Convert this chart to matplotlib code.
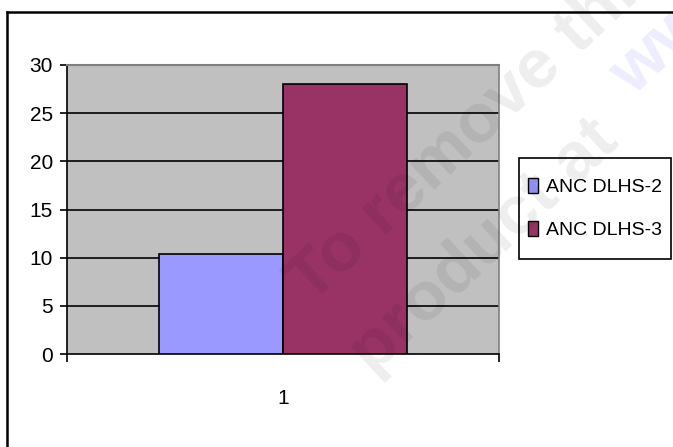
import matplotlib
matplotlib.use("Agg")
import matplotlib.pyplot as plt
from matplotlib.lines import Line2D
from matplotlib.patches import Rectangle
import numpy as np

plt.rcParams.update({"font.family": "Liberation Sans", "font.size": 15})

categories = ["1"]
series = ["ANC DLHS-2", "ANC DLHS-3"]
values = {"ANC DLHS-2": [10.4], "ANC DLHS-3": [28.0]}
colors = {"ANC DLHS-2": "#9999FF", "ANC DLHS-3": "#993366"}
yticks = [0, 5, 10, 15, 20, 25, 30]

W, H = 673, 447
fig = plt.figure(figsize=(W / 100, H / 100), dpi=100)
ax = fig.add_axes([67 / W, 1 - 354 / H, (499 - 67) / W, (354 - 65) / H])
ax.set_facecolor("#C0C0C0")

x = np.arange(len(categories)) + 1
bw = 0.286
for i, s in enumerate(series):
    ax.bar(x + (i - 0.5) * bw, values[s], width=bw, color=colors[s],
           edgecolor="black", linewidth=1.2, label=s, zorder=3)

ax.set_xlim(0.5, len(categories) + 0.5)
ax.set_ylim(0, 30)
ax.set_yticks(yticks)
for yv in yticks[1:-1]:
    ax.axhline(yv, color="black", linewidth=1.2, zorder=1)

ax.spines["top"].set_color("#808080")
ax.spines["right"].set_color("#808080")
ax.spines["top"].set_linewidth(1.5)
ax.spines["right"].set_linewidth(1.2)
ax.spines["left"].set_linewidth(1.2)
ax.spines["bottom"].set_linewidth(1.2)

ax.tick_params(axis="y", direction="out", length=5, width=1.2, pad=5, labelsize=15)
ax.set_xticks(x)
ax.set_xticklabels(categories)
ax.tick_params(axis="x", length=0, pad=25, labelsize=15)
ax.set_xticks(np.arange(len(categories) + 1) + 0.5, minor=True)
ax.tick_params(axis="x", which="minor", direction="out", length=6, width=1.2)

# legend box drawn to the reference size, entries centred in it
lx0, ly0, lx1, ly1 = 519, 158, 671, 259
fig.add_artist(Rectangle((lx0 / W, 1 - ly1 / H), (lx1 - lx0) / W, (ly1 - ly0) / H,
                         transform=fig.transFigure, facecolor="white",
                         edgecolor="black", linewidth=1.2, zorder=4))
leg = fig.legend(loc="center", bbox_to_anchor=((lx0 + lx1) / 2 / W, 1 - (ly0 + ly1) / 2 / H),
                 frameon=False, handlelength=0.52, handleheight=0.82,
                 handletextpad=0.45, borderpad=0.3, labelspacing=1.3,
                 borderaxespad=0, fontsize=14)
leg.set_zorder(5)
for h in leg.legend_handles:
    h.set_linewidth(1.0)

# outer chart frame (only left and top edges fall inside the picture)
fig.add_artist(Line2D([7 / W, 7 / W], [0, 1 - 12 / H], color="black", linewidth=1.8,
                      transform=fig.transFigure))
fig.add_artist(Line2D([7 / W, 1], [1 - 12 / H, 1 - 12 / H], color="black", linewidth=1.8,
                      transform=fig.transFigure))

# faint converter watermark
wm = dict(rotation=43, rotation_mode="anchor", ha="left", va="baseline",
          fontsize=50, fontweight="bold", zorder=10)
fig.text(311 / W, 1 - 305 / H, "To remove this", color="black", alpha=0.07, **wm)
fig.text(372 / W, 1 - 376 / H, "product at", color="black", alpha=0.07, **wm)
fig.text(633 / W, 1 - 97 / H, "www", color="#7070FF", alpha=0.13, **wm)

fig.savefig("out.png", dpi=100)
